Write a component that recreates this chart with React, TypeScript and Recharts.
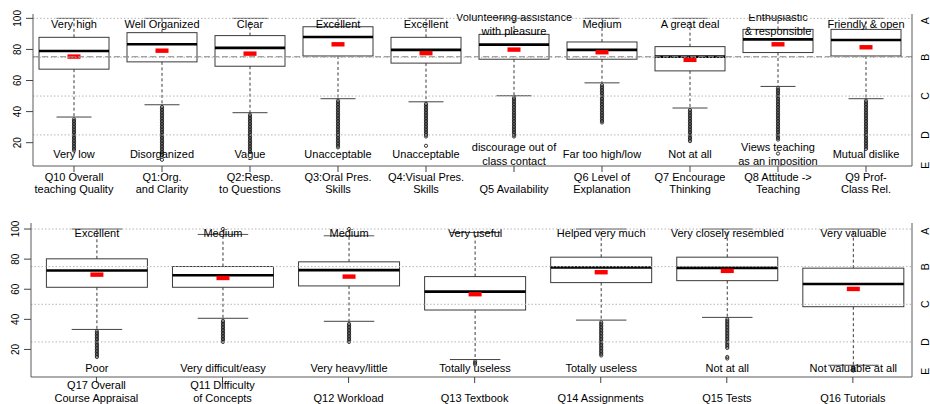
import React from 'react';
import { ComposedChart, Bar, XAxis, YAxis, ReferenceLine } from 'recharts';

const FONT = '"Liberation Sans", Arial, Helvetica, sans-serif';

// ---------- Upper panel: teaching items ----------
const teachingItems = [
  'Q10 Overall\nteaching Quality',
  'Q1:Org.\nand Clarity',
  'Q2:Resp.\nto Questions',
  'Q3:Oral Pres.\nSkills',
  'Q4:Visual Pres.\nSkills',
  '\nQ5 Availability',
  'Q6 Level of\nExplanation',
  'Q7 Encourage\nThinking',
  'Q8 Attitude ->\nTeaching',
  'Q9 Prof-\nClass Rel.',
];
const teachingBest = [
  'Very high', 'Well Organized', 'Clear', 'Excellent', 'Excellent',
  'Volunteering assistance\nwith pleasure', 'Medium', 'A great deal',
  'Enthusiastic\n& responsible', 'Friendly & open',
];
const teachingWorst = [
  'Very low', 'Disorganized', 'Vague', 'Unacceptable', 'Unacceptable',
  'discourage out of\nclass contact', 'Far too high/low', 'Not at all',
  'Views teaching\nas an imposition', 'Mutual dislike',
];
const teachingLowerHinge = [67.3, 72.0, 69.2, 75.8, 71.2, 73.7, 73.7, 66.2, 78.0, 75.8];
const teachingMedian = [79.0, 83.3, 81.0, 88.0, 79.7, 83.1, 79.7, 75.4, 86.5, 86.1];
const teachingUpperHinge = [87.8, 90.8, 88.9, 94.6, 87.8, 89.7, 84.8, 81.8, 92.9, 92.9];
const teachingMean = [75.4, 79.2, 77.3, 83.3, 77.6, 79.9, 78.2, 73.3, 83.3, 81.4];
const teachingWhiskerLow = [36.5, 44.4, 39.3, 48.3, 46.3, 50.2, 58.5, 42.3, 56.2, 48.3];
const teachingWhiskerHigh = [100, 100, 100, 100, 100, 100, 100, 100, 100, 100];
const teachingOutliers = [
  [35, 34, 33, 32, 31, 30, 29, 28, 27, 26, 25, 24, 23, 22, 21, 20, 19, 18, 17, 16, 15],
  [43, 42, 41, 40, 39, 38, 37, 36, 35, 34, 33, 32, 31, 30, 29, 28, 27, 26, 25, 24, 23, 22, 21, 20, 19, 18, 17, 16, 15, 14, 13, 12, 9],
  [38, 37, 36, 35, 34, 33, 32, 31, 30, 29, 28, 27, 26, 25, 24, 23, 22, 21, 20, 19, 18, 17, 16, 15, 14],
  [47, 46, 45, 44, 43, 42, 41, 40, 39, 38, 37, 36, 35, 34, 33, 32, 31, 30, 29, 28, 27, 26, 25, 24, 23, 22, 21, 20, 19, 18, 17],
  [45, 44, 43, 42, 41, 40, 39, 38, 37, 36, 35, 34, 33, 32, 31, 30, 29, 28, 27, 26, 25, 24, 18],
  [49, 48, 47, 46, 45, 44, 43, 42, 41, 40, 39, 38, 37, 36, 35, 34, 33, 32, 31, 30, 29, 28, 27, 26, 25, 24],
  [57, 56, 55, 54, 53, 52, 51, 50, 49, 48, 47, 46, 45, 44, 43, 42, 41, 40, 39, 38, 37, 36, 35, 34, 33],
  [41, 40, 39, 38, 37, 36, 35, 34, 33, 32, 31, 30, 29, 28, 27, 26, 25, 24, 23, 22, 21],
  [55, 54, 53, 52, 51, 50, 49, 48, 47, 46, 45, 44, 43, 42, 41, 40, 39, 38, 37, 36, 35, 34, 33, 32, 31, 30, 29, 28, 27, 26, 25, 24, 23, 22, 13],
  [47, 46, 45, 44, 43, 42, 41, 40, 39, 38, 37, 36, 35, 34, 33, 32, 31, 30, 29, 28, 27, 26, 25, 24, 23, 22, 21, 20, 19, 18, 17, 16],
];
const teachingOverallMean = 75.3;

// ---------- Lower panel: course items ----------
const courseItems = [
  'Q17 Overall\nCourse Appraisal',
  'Q11 Difficulty\nof Concepts',
  '\nQ12 Workload',
  '\nQ13 Textbook',
  '\nQ14 Assignments',
  '\nQ15 Tests',
  '\nQ16 Tutorials',
];
const courseBest = [
  'Excellent', 'Medium', 'Medium', 'Very useful', 'Helped very much',
  'Very closely resembled', 'Very valuable',
];
const courseWorst = [
  'Poor', 'Very difficult/easy', 'Very heavy/little', 'Totally useless',
  'Totally useless', 'Not at all', 'Not valuable at all',
];
const courseLowerHinge = [61.3, 61.3, 62.2, 46.2, 64.4, 65.7, 48.4];
const courseMedian = [72.4, 69.3, 72.7, 58.4, 74.4, 74.2, 63.5];
const courseUpperHinge = [80.2, 75.1, 78.2, 68.4, 81.3, 81.3, 74.0];
const courseMean = [69.7, 67.5, 68.4, 56.7, 71.3, 72.2, 60.2];
const courseWhiskerLow = [33.3, 40.7, 38.7, 13.3, 39.5, 41.3, 9.5];
const courseWhiskerHigh = [100, 96.4, 95.5, 97.7, 100, 100, 100];
const courseOutliers = [
  [32, 31, 30, 29, 28, 27, 26, 25, 24, 23, 22, 21, 20, 19, 18, 17, 16, 15],
  [100, 39, 38, 37, 36, 35, 34, 33, 32, 31, 30, 29, 28, 27, 26, 25],
  [100, 37, 36, 35, 34, 33, 32, 31, 30, 29, 28, 27, 26, 25],
  [12, 11, 10],
  [38, 37, 36, 35, 34, 33, 32, 31, 30, 29, 28, 27, 26, 25, 24, 23, 22, 21, 20, 19, 18, 17, 16],
  [40, 39, 38, 37, 36, 35, 34, 33, 32, 31, 30, 29, 28, 27, 26, 25, 24, 23, 22, 21, 15, 14],
  [8, 7, 6],
];

// ---------- Axis ticks ----------
const scoreTicks = [20, 40, 60, 80, 100];
const gridLevels = [100, 75, 50, 25];
const gradeTicks = [98.5, 75, 50, 25, 5.5];
const gradeLetters = ['A', 'B', 'C', 'D', 'E'];

type Row = {
  name: string;
  best: string;
  worst: string;
  lh: number;
  med: number;
  uh: number;
  mean: number;
  wlo: number;
  whi: number;
  out: number[];
  span: [number, number];
};

function buildRows(
  names: string[], best: string[], worst: string[], lh: number[], med: number[],
  uh: number[], mean: number[], wlo: number[], whi: number[], out: number[][],
): Row[] {
  return names.map((name, i) => {
    const lo = Math.min(wlo[i], ...out[i]);
    const hi = Math.max(whi[i], ...out[i]);
    return {
      name, best: best[i], worst: worst[i], lh: lh[i], med: med[i], uh: uh[i],
      mean: mean[i], wlo: wlo[i], whi: whi[i], out: out[i], span: [lo, hi],
    };
  });
}

const teachingRows = buildRows(
  teachingItems, teachingBest, teachingWorst, teachingLowerHinge, teachingMedian,
  teachingUpperHinge, teachingMean, teachingWhiskerLow, teachingWhiskerHigh, teachingOutliers,
);
const courseRows = buildRows(
  courseItems, courseBest, courseWorst, courseLowerHinge, courseMedian,
  courseUpperHinge, courseMean, courseWhiskerLow, courseWhiskerHigh, courseOutliers,
);

const INK = '#3a3a3a';
const FRAME = '#5a5a5a';

function MultiLine({ x, y, text, step }: { x: number; y: number; text: string; step: number }) {
  const lines = text.split('\n');
  const first = y - ((lines.length - 1) * step) / 2;
  return (
    <g>
      {lines.map((s, i) => (
        <text key={i} x={x} y={first + i * step} dy={3.9} textAnchor="middle"
          fontSize={11} fontFamily={FONT} fill="#000">{s}</text>
      ))}
    </g>
  );
}

// Box-and-whisker glyph; the bar spans [lowest point, highest point], which gives the value→pixel mapping
function makeBoxShape(bestAt: number, worstAt: number, lineStep: number) {
  return (props: any) => {
    const { x, y, width, height, payload } = props;
    const r: Row = payload;
    const [lo, hi] = r.span;
    const top = Math.min(y, y + height);
    const h = Math.abs(height);
    const px = (v: number) => top + ((hi - v) / (hi - lo)) * h;
    const cx = x + width / 2;
    const cap = width / 4;
    return (
      <g>
        <line x1={cx} x2={cx} y1={px(r.uh)} y2={px(r.whi)} stroke={INK} strokeDasharray="3 2.5" />
        <line x1={cx} x2={cx} y1={px(r.lh)} y2={px(r.wlo)} stroke={INK} strokeDasharray="3 2.5" />
        <line x1={cx - cap} x2={cx + cap} y1={px(r.whi)} y2={px(r.whi)} stroke="#555" />
        <line x1={cx - cap} x2={cx + cap} y1={px(r.wlo)} y2={px(r.wlo)} stroke="#444" />
        <rect x={x} y={px(r.uh)} width={width} height={px(r.lh) - px(r.uh)} fill="none" stroke={INK} />
        <line x1={x} x2={x + width} y1={px(r.med)} y2={px(r.med)} stroke="#000" strokeWidth={2.6} />
        {r.out.map((v, i) => (
          <circle key={i} cx={cx} cy={px(v)} r={1.6} fill="none" stroke="#1e1e1e" strokeWidth={0.9} />
        ))}
        <rect x={cx - 6.5} y={px(r.mean) - 2.2} width={13} height={4.4} fill="#ff0000" />
        <MultiLine x={cx} y={px(bestAt)} text={r.best} step={lineStep} />
        <MultiLine x={cx} y={px(worstAt)} text={r.worst} step={lineStep} />
      </g>
    );
  };
}

function makeCategoryTick(lift: number) {
  return (props: any) => {
    const { x, y, payload } = props;
    const lines = String(payload.value).split('\n');
    return (
      <g>
        {lines.map((s, i) => (
          <text key={i} x={x} y={y + 4.7 - lift + i * 12.6} dy={3.9} textAnchor="middle"
            fontSize={11} fontFamily={FONT} fill="#000">{s}</text>
        ))}
      </g>
    );
  };
}

const ScoreTick = (props: any) => {
  const { x, y, payload } = props;
  const cx = x - 8.5;
  return (
    <text x={cx} y={y} dy={3.6} textAnchor="middle" transform={`rotate(-90 ${cx} ${y})`}
      fontSize={10} fontFamily={FONT} fill="#000">{payload.value}</text>
  );
};

const GradeTick = (props: any) => {
  const { x, y, payload } = props;
  const cx = x + 13;
  const letter = gradeLetters[gradeTicks.indexOf(payload.value)];
  return (
    <text x={cx} y={y} dy={3.6} textAnchor="middle" transform={`rotate(-90 ${cx} ${y})`}
      fontSize={10.5} fontFamily={FONT} fill="#000">{letter}</text>
  );
};

type PanelProps = {
  rows: Row[];
  height: number;
  marginTop: number;
  leftWidth: number;
  bottomHeight: number;
  domain: [number, number];
  pad: { left: number; right: number };
  barSize: number;
  bestAt: number;
  worstAt: number;
  lineStep: number;
  tickLift: number;
  overallMean?: number;
};

function Panel(p: PanelProps) {
  return (
    <ComposedChart width={930} height={p.height} data={p.rows}
      margin={{ top: p.marginTop, right: 0, bottom: 0, left: 0 }}>
      <XAxis xAxisId="b" dataKey="name" type="category" interval={0} padding={p.pad}
        height={p.bottomHeight} tickSize={6} tickMargin={0} tick={makeCategoryTick(p.tickLift)}
        tickLine={{ stroke: '#444' }} axisLine={{ stroke: FRAME }} />
      <XAxis xAxisId="t" dataKey="name" type="category" orientation="top" height={0}
        tick={false} tickLine={false} axisLine={{ stroke: FRAME }} />
      <YAxis yAxisId="s" type="number" domain={p.domain} allowDataOverflow ticks={scoreTicks}
        width={p.leftWidth} tickSize={7} tickMargin={0} tick={ScoreTick}
        tickLine={{ stroke: '#444' }} axisLine={{ stroke: FRAME }} />
      <YAxis yAxisId="g" orientation="right" type="number" domain={p.domain} allowDataOverflow
        ticks={gradeTicks} width={18} tickSize={0} tickMargin={0} tick={GradeTick}
        tickLine={false} axisLine={{ stroke: FRAME }} />
      {gridLevels.map((v) => (
        <ReferenceLine key={v} xAxisId="b" yAxisId="s" y={v} stroke="#b5b5b5" strokeDasharray="1.5 2" />
      ))}
      {p.overallMean !== undefined && (
        <ReferenceLine xAxisId="b" yAxisId="s" y={p.overallMean} stroke="#8a8a8a" strokeDasharray="6 3" />
      )}
      <Bar xAxisId="b" yAxisId="s" dataKey="span" barSize={p.barSize} isAnimationActive={false}
        shape={makeBoxShape(p.bestAt, p.worstAt, p.lineStep)} />
    </ComposedChart>
  );
}

export default function App() {
  return (
    <div style={{ position: 'absolute', left: 0, top: 0, width: 930, height: 404, background: '#fff', overflow: 'hidden' }}>
      <div style={{ position: 'absolute', left: 0, top: 0 }}>
        <Panel rows={teachingRows} height={200} marginTop={14} leftWidth={33} bottomHeight={34}
          domain={[5.0, 102.8]} pad={{ left: -3, right: 2 }} barSize={70}
          bestAt={96.5} worstAt={12.4} lineStep={14} tickLift={0} overallMean={teachingOverallMean} />
      </div>
      <div style={{ position: 'absolute', left: 0, top: 200 }}>
        <Panel rows={courseRows} height={204} marginTop={23} leftWidth={31} bottomHeight={27}
          domain={[1.7, 104]} pad={{ left: 2.4, right: -3.9 }} barSize={101}
          bestAt={97.3} worstAt={7.3} lineStep={13.4} tickLift={2.6} />
      </div>
    </div>
  );
}
